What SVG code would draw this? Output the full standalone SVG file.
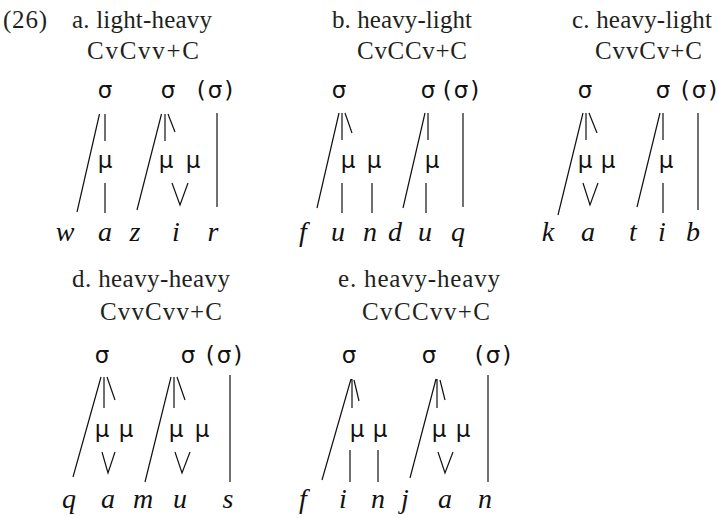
<svg xmlns="http://www.w3.org/2000/svg" width="718" height="518" viewBox="0 0 718 518">
<style>
.hd{font-family:"Liberation Serif","Times New Roman",serif;font-size:25px;fill:#231f20}
.gk{font-family:"DejaVu Sans",sans-serif;font-size:23px;text-anchor:middle;fill:#111}
.ps{letter-spacing:2px}
.sg{font-family:"Liberation Serif","Times New Roman",serif;font-style:italic;font-size:28px;text-anchor:middle;fill:#111}
.ln{stroke:#111;stroke-width:1.2;fill:none}
</style>
<rect width="718" height="518" fill="#fff"/>
<g id="headers">
<text class="hd" x="3" y="28" textLength="44">(26)</text>
<text class="hd" x="72" y="28" textLength="140">a. light-heavy</text>
<text class="hd" x="87" y="59" textLength="112">CvCvv+C</text>
<text class="hd" x="332" y="28" textLength="140">b. heavy-light</text>
<text class="hd" x="357" y="59" textLength="110">CvCCv+C</text>
<text class="hd" x="572" y="28" textLength="140">c. heavy-light</text>
<text class="hd" x="595" y="59" textLength="107">CvvCv+C</text>
<text class="hd" x="72" y="287" textLength="158">d. heavy-heavy</text>
<text class="hd" x="100" y="320" textLength="122">CvvCvv+C</text>
<text class="hd" x="338" y="287" textLength="162">e. heavy-heavy</text>
<text class="hd" x="362" y="320" textLength="128">CvCCvv+C</text>
</g>
<g id="panel-a">
<g id="a-s1"><text class="gk" x="105" y="98">σ</text></g>
<g id="a-s2"><text class="gk" x="168" y="98">σ</text></g>
<g id="a-s3"><text class="gk ps" x="216" y="98">(σ)</text></g>
<g id="a-m1"><text class="gk" x="105" y="168">μ</text></g>
<g id="a-m2"><text class="gk" x="166" y="168">μ</text></g>
<g id="a-m3"><text class="gk" x="193" y="168">μ</text></g>
<g id="a-w"><text class="sg" x="65" y="241">w</text></g>
<g id="a-a"><text class="sg" x="105" y="241">a</text></g>
<g id="a-z"><text class="sg" x="135" y="241">z</text></g>
<g id="a-i"><text class="sg" x="176" y="241">i</text></g>
<g id="a-r"><text class="sg" x="213" y="241">r</text></g>
</g>
<g id="panel-b">
<g id="b-s1"><text class="gk" x="339" y="98">σ</text></g>
<g id="b-s2"><text class="gk" x="428" y="98">σ</text></g>
<g id="b-s3"><text class="gk ps" x="462" y="98">(σ)</text></g>
<g id="b-m1"><text class="gk" x="348" y="168">μ</text></g>
<g id="b-m2"><text class="gk" x="374" y="168">μ</text></g>
<g id="b-m3"><text class="gk" x="432" y="168">μ</text></g>
<g id="b-f"><text class="sg" x="303" y="241">f</text></g>
<g id="b-u1"><text class="sg" x="338" y="241">u</text></g>
<g id="b-n"><text class="sg" x="370" y="241">n</text></g>
<g id="b-d"><text class="sg" x="395" y="241">d</text></g>
<g id="b-u2"><text class="sg" x="425" y="241">u</text></g>
<g id="b-q"><text class="sg" x="458" y="241">q</text></g>
</g>
<g id="panel-c">
<g id="c-s1"><text class="gk" x="585" y="98">σ</text></g>
<g id="c-s2"><text class="gk" x="663" y="98">σ</text></g>
<g id="c-s3"><text class="gk ps" x="700" y="98">(σ)</text></g>
<g id="c-m1"><text class="gk" x="585" y="168">μ</text></g>
<g id="c-m2"><text class="gk" x="608" y="168">μ</text></g>
<g id="c-m3"><text class="gk" x="666" y="168">μ</text></g>
<g id="c-k"><text class="sg" x="548" y="241">k</text></g>
<g id="c-a"><text class="sg" x="588" y="241">a</text></g>
<g id="c-t"><text class="sg" x="633" y="241">t</text></g>
<g id="c-i"><text class="sg" x="662" y="241">i</text></g>
<g id="c-b"><text class="sg" x="693" y="241">b</text></g>
</g>
<g id="panel-d">
<g id="d-s1"><text class="gk" x="102" y="363">σ</text></g>
<g id="d-s2"><text class="gk" x="188" y="363">σ</text></g>
<g id="d-s3"><text class="gk ps" x="225" y="363">(σ)</text></g>
<g id="d-m1"><text class="gk" x="102" y="437">μ</text></g>
<g id="d-m2"><text class="gk" x="126" y="437">μ</text></g>
<g id="d-m3"><text class="gk" x="176" y="437">μ</text></g>
<g id="d-m4"><text class="gk" x="202" y="437">μ</text></g>
<g id="d-q"><text class="sg" x="69" y="508">q</text></g>
<g id="d-a"><text class="sg" x="108" y="508">a</text></g>
<g id="d-m"><text class="sg" x="143" y="508">m</text></g>
<g id="d-u"><text class="sg" x="180" y="508">u</text></g>
<g id="d-s"><text class="sg" x="228" y="508">s</text></g>
</g>
<g id="panel-e">
<g id="e-s1"><text class="gk" x="349" y="363">σ</text></g>
<g id="e-s2"><text class="gk" x="429" y="363">σ</text></g>
<g id="e-s3"><text class="gk ps" x="494" y="363">(σ)</text></g>
<g id="e-m1"><text class="gk" x="357" y="437">μ</text></g>
<g id="e-m2"><text class="gk" x="380" y="437">μ</text></g>
<g id="e-m3"><text class="gk" x="439" y="437">μ</text></g>
<g id="e-m4"><text class="gk" x="463" y="437">μ</text></g>
<g id="e-f"><text class="sg" x="303" y="508">f</text></g>
<g id="e-i"><text class="sg" x="343" y="508">i</text></g>
<g id="e-n1"><text class="sg" x="378" y="508">n</text></g>
<g id="e-j"><text class="sg" x="405" y="508">j</text></g>
<g id="e-a"><text class="sg" x="445" y="508">a</text></g>
<g id="e-n2"><text class="sg" x="485" y="508">n</text></g>
</g>
<g id="connectors" class="ln">
<path d="M99.5 114L77 212M105 114V141M105 183V213"/>
<path d="M161.5 114L137 210M165 114V141M168 114L175 132M172 183L180 205L188 183"/>
<path d="M217 113V207"/>
<path d="M339 113L317 208M342 113V140M345 113L352 133M342 183V213M372 183V213"/>
<path d="M425 113L403 208M428 113V140M426 183V213"/>
<path d="M463 113V207"/>
<path d="M583 113L558 215M586 113V140M589 113L597 133M583 183L590 205L598 183"/>
<path d="M660 113L637 207M663 113V140M663 183V213"/>
<path d="M698 113V210"/>
<path d="M101 377L73 477M104 377V408M107 377L115 400M102 452L108 473L115 452"/>
<path d="M171 377L145 482M174 377V408M177 377L185 400M175 452L182 473L190 452"/>
<path d="M230 375V482"/>
<path d="M351 379L322 480M352 379V408M354 380L359 401M350 450V482M378 450V482"/>
<path d="M436 379L410 478M437 379V408M440 380L445 400M438 452L445 473L453 452"/>
<path d="M488 375V482"/>
</g>
</svg>
